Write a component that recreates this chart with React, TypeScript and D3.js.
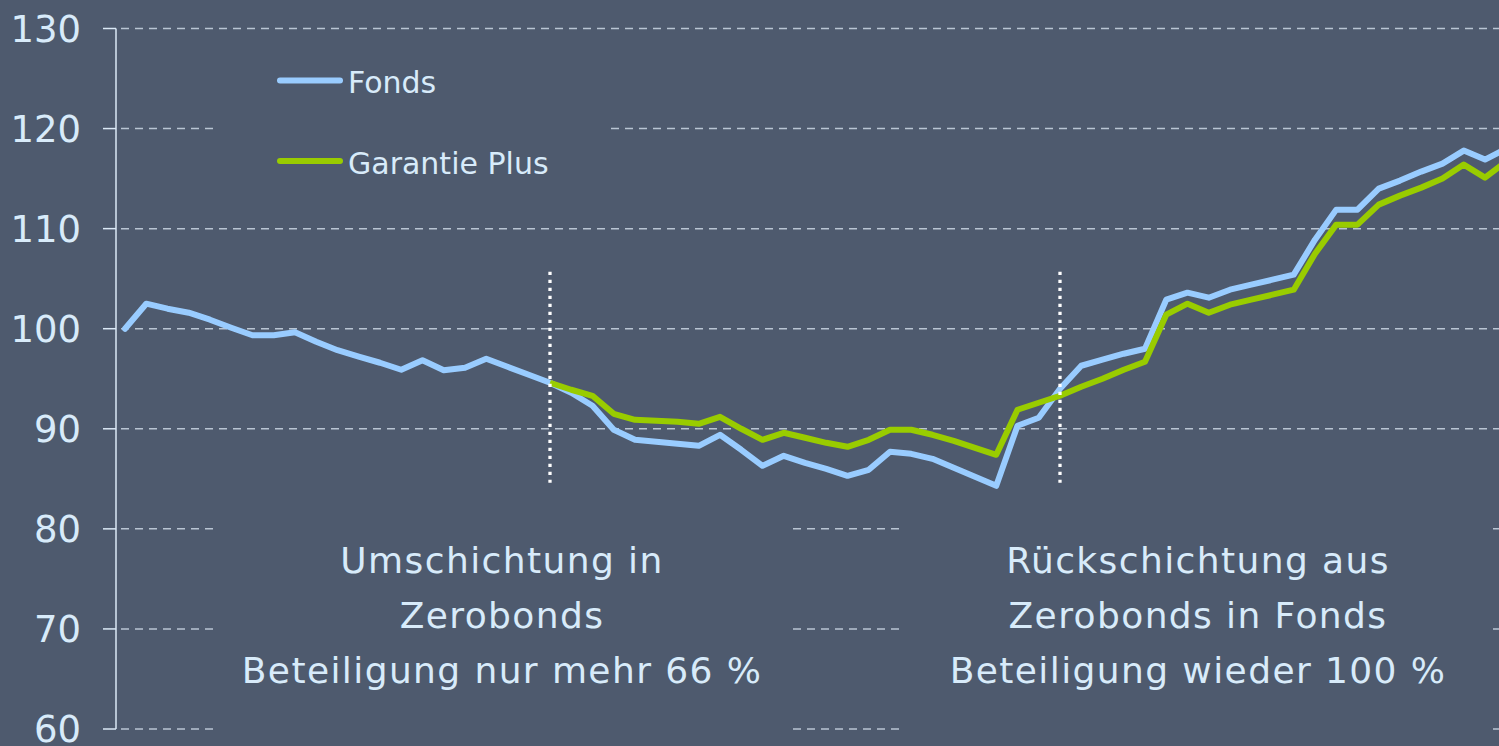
import * as d3 from 'd3';

// monthly index values
const fonds = [
  100.0, 102.5, 102.0, 101.6, 100.9, 100.1, 99.35, 99.35, 99.65, 98.7,
  97.85, 97.2, 96.6, 95.9, 96.85, 95.85, 96.1, 97.0, 96.2, 95.4,
  94.6, 93.6, 92.3, 89.9, 88.9, 88.7, 88.5, 88.3, 89.4, 87.9,
  86.3, 87.3, 86.6, 86.0, 85.3, 85.9, 87.7, 87.5, 87.0, 86.1,
  85.2, 84.3, 90.3, 91.1, 94.0, 96.3, 96.9, 97.5, 98.0, 102.9,
  103.6, 103.1, 103.9, 104.4, 104.9, 105.4, 108.9, 111.9, 111.9, 114.0,
  114.8, 115.7, 116.5, 117.8, 116.9, 118.0
];

// Garantie Plus starts at the first switch (month 20)
const garantieStart = 20;
const garantie = [
  94.6, 93.9, 93.3, 91.5, 90.9, 90.8, 90.7, 90.5, 91.2, 90.0,
  88.9, 89.6, 89.1, 88.6, 88.2, 88.9, 89.9, 89.9, 89.4, 88.8,
  88.1, 87.4, 91.9, 92.6, 93.3, 94.2, 95.0, 95.9, 96.7, 101.4,
  102.5, 101.6, 102.4, 102.9, 103.4, 103.9, 107.5, 110.4, 110.4, 112.4,
  113.3, 114.1, 115.0, 116.4, 115.1, 116.7
];

const yTicks = [60, 70, 80, 90, 100, 110, 120, 130];
const switchMonths = [20, 44];
const switchRange = [84.6, 105.7];

const legendItems = [
  { label: 'Fonds', color: '#99ccff' },
  { label: 'Garantie Plus', color: '#99cc00' }
];

const notes = [
  ['Umschichtung in', 'Zerobonds', 'Beteiligung nur mehr 66 %'],
  ['Rückschichtung aus', 'Zerobonds in Fonds', 'Beteiligung wieder 100 %']
];

const W = 1499;
const H = 746;
const bg = '#4e5a6e';
const textColor = '#d8ebfa';
const font = "'DejaVu Sans', sans-serif";

type Pt = { m: number; v: number };

export default function App() {
  const x = d3.scaleLinear().domain([0, 65]).range([125, 1506.25]);
  const y = d3.scaleLinear().domain([60, 130]).range([729, 28.5]);

  const fondsPts: Pt[] = fonds.map((v, i) => ({ m: i, v }));
  const garantiePts: Pt[] = garantie.map((v, i) => ({ m: i + garantieStart, v }));

  const line = d3
    .line<Pt>()
    .x((d) => x(d.m))
    .y((d) => y(d.v));

  const axisX = 116;

  return (
    <svg
      width={W}
      height={H}
      style={{ position: 'absolute', left: 0, top: 0, display: 'block' }}
      fontFamily={font}
    >
      <rect width={W} height={H} fill={bg} />

      {/* grid */}
      {yTicks.map((t) => (
        <line
          key={'g' + t}
          x1={axisX + 5}
          x2={W}
          y1={y(t)}
          y2={y(t)}
          stroke="#b9c5d3"
          strokeWidth={1.5}
          strokeDasharray="8 6"
        />
      ))}

      {/* boxes behind legend and notes hide the grid */}
      <rect x={214} y={40} width={391} height={160} fill={bg} />
      <rect x={216} y={505} width={574} height={235} fill={bg} />
      <rect x={905} y={505} width={585} height={235} fill={bg} />

      {/* y axis */}
      <line x1={axisX} x2={axisX} y1={y(130)} y2={y(60)} stroke="#dbe9f6" strokeWidth={1.5} />
      {yTicks.map((t) => (
        <g key={'t' + t}>
          <line x1={axisX - 13} x2={axisX} y1={y(t)} y2={y(t)} stroke="#dbe9f6" strokeWidth={1.5} />
          <text
            x={81}
            y={y(t)}
            dy="0.36em"
            textAnchor="end"
            fontSize={37}
            fill={textColor}
          >
            {t}
          </text>
        </g>
      ))}

      {/* series */}
      <path
        d={line(fondsPts) ?? ''}
        fill="none"
        stroke={legendItems[0].color}
        strokeWidth={6}
        strokeLinejoin="round"
        strokeLinecap="round"
      />
      <path
        d={line(garantiePts) ?? ''}
        fill="none"
        stroke={legendItems[1].color}
        strokeWidth={6}
        strokeLinejoin="round"
      />

      {/* switch markers */}
      {switchMonths.map((m) => (
        <line
          key={'s' + m}
          x1={x(m)}
          x2={x(m)}
          y1={y(switchRange[1])}
          y2={y(switchRange[0])}
          stroke="#ffffff"
          strokeWidth={3.3}
          strokeDasharray="3.3 4.7"
        />
      ))}

      {/* legend */}
      {legendItems.map((it, i) => (
        <g key={it.label} transform={`translate(0,${i * 80.5})`}>
          <line
            x1={280}
            x2={340}
            y1={80.5}
            y2={80.5}
            stroke={it.color}
            strokeWidth={6}
            strokeLinecap="round"
          />
          <text x={348} y={93} fontSize={30} fill={textColor}>
            {it.label}
          </text>
        </g>
      ))}

      {/* annotations */}
      {notes.map((lines, k) => (
        <text
          key={'n' + k}
          x={k === 0 ? 502 : 1198}
          textAnchor="middle"
          fontSize={36}
          letterSpacing={1.4}
          fill={textColor}
        >
          {lines.map((l, j) => (
            <tspan key={j} x={k === 0 ? 502 : 1198} y={573 + j * 54.8}>
              {l}
            </tspan>
          ))}
        </text>
      ))}
    </svg>
  );
}
